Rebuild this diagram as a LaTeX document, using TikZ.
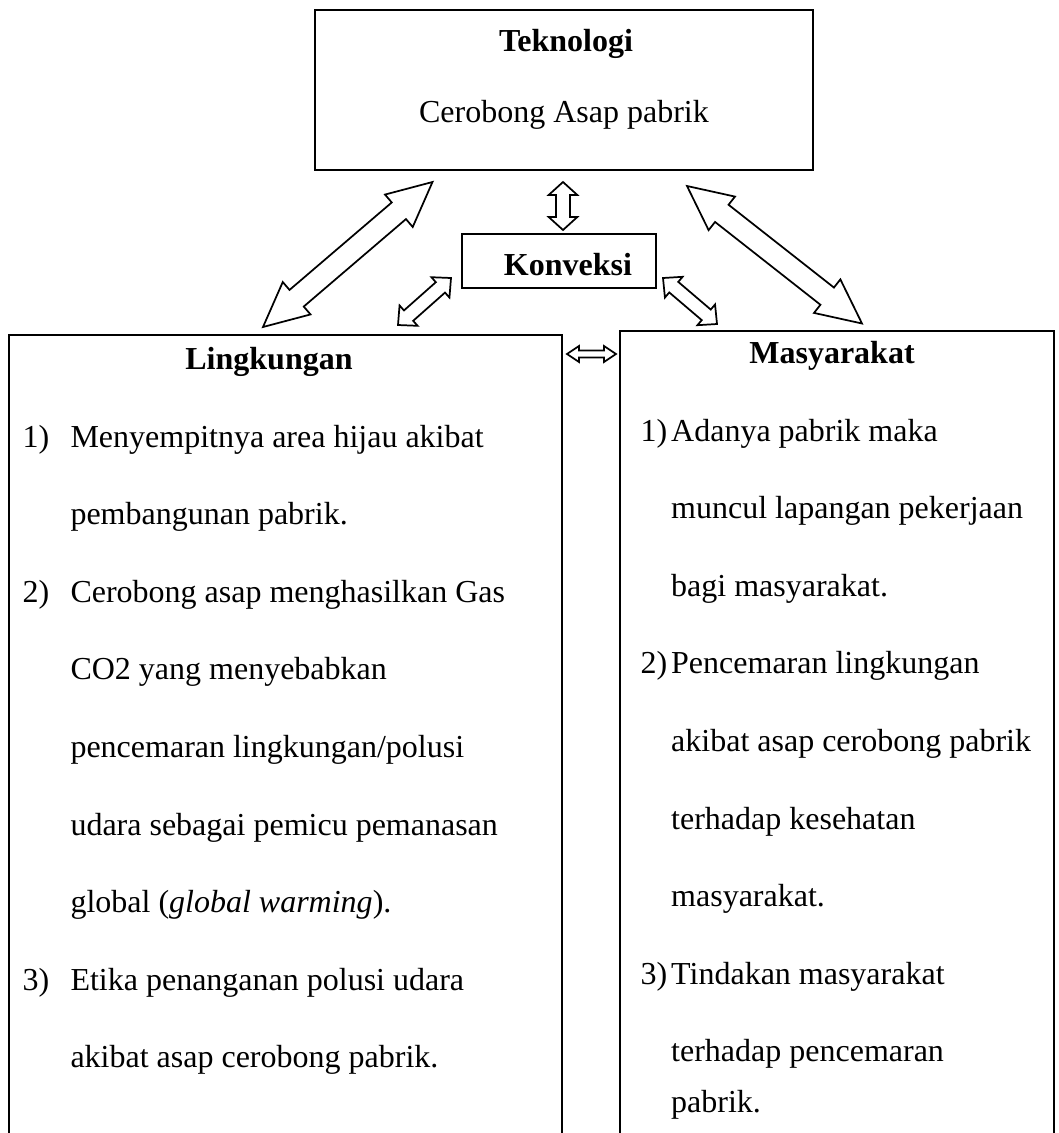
\documentclass[tikz,border=0pt]{standalone}
\usepackage{fontspec}
\setmainfont{Liberation Serif}
\usetikzlibrary{calc,fit}

\tikzset{
  box/.style={draw, line width=0.9pt, inner sep=0pt},
  smallbox/.style={draw, line width=0.8pt, inner sep=0pt},
  lbl/.style={inner sep=0pt, font=\fontsize{12}{14.4}\selectfont},
  head/.style={inner sep=0pt, font=\fontsize{12}{14.4}\selectfont\bfseries},
  blockarrow/.style={draw, line width=0.65pt, fill=white, line join=miter},
}

% Double-headed block arrow between two named points.
% #1 from, #2 to, #3 head length, #4 half head width, #5 half shaft width
\newcommand{\blockarrow}[5]{%
  \draw[blockarrow] (#1)
    -- ($(#1)!#3!(#2)!#4!90:(#2)$)
    -- ($(#1)!#3!(#2)!#5!90:(#2)$)
    -- ($(#2)!#3!(#1)!#5!-90:(#1)$)
    -- ($(#2)!#3!(#1)!#4!-90:(#1)$)
    -- (#2)
    -- ($(#2)!#3!(#1)!#4!90:(#1)$)
    -- ($(#2)!#3!(#1)!#5!90:(#1)$)
    -- ($(#1)!#3!(#2)!#5!-90:(#2)$)
    -- ($(#1)!#3!(#2)!#4!-90:(#2)$)
    -- cycle;}

\begin{document}
\begin{tikzpicture}[x=0.375pt, y=-0.375pt]
\useasboundingbox (0,0) rectangle (1058,1133);
\clip (0,0) rectangle (1058,1133);

% boxes
\node[box, fit={(315,10)(813,170)}] (tek) {};
\node[smallbox, fit={(462,234)(656,288)}] (konv) {};
\node[box, fit={(9,335)(562,1160)}] (ling) {};
\node[box, fit={(620,331)(1054,1160)}] (masy) {};

% top box text
\node[head, anchor=base] (tektitle) at (566,51) {Teknologi};
\node[lbl, anchor=base] (teksub) at (564,122) {Cerobong Asap pabrik};
\node[head, anchor=base] (konvtitle) at (568,275) {Konveksi};

% left box text
\node[head, anchor=base] (lingtitle) at (269,369) {Lingkungan};
\node[lbl, anchor=base west] (lingitems) at (22,447) {\fontsize{12}{29.1}\selectfont
\begin{tabular}[t]{@{}p{18pt}@{}l@{}}
1) & Menyempitnya area hijau akibat\\
   & pembangunan pabrik.\\
2) & Cerobong asap menghasilkan Gas\\
   & CO2 yang menyebabkan\\
   & pencemaran lingkungan/polusi\\
   & udara sebagai pemicu pemanasan\\
   & global (\textit{global warming}).\\
3) & Etika penanganan polusi udara\\
   & akibat asap cerobong pabrik.
\end{tabular}};

% right box text
\node[head, anchor=base] (masytitle) at (832,363) {Masyarakat};
\node[lbl, anchor=base west] (masyitems) at (640,441) {\fontsize{12}{29.1}\selectfont
\begin{tabular}[t]{@{}p{11.5pt}@{}l@{}}
1) & Adanya pabrik maka\\
   & muncul lapangan pekerjaan\\
   & bagi masyarakat.\\
2) & Pencemaran lingkungan\\
   & akibat asap cerobong pabrik\\
   & terhadap kesehatan\\
   & masyarakat.\\
3) & Tindakan masyarakat\\
   & terhadap pencemaran\\[-10pt]
   & pabrik.
\end{tabular}};

% arrow end points
\coordinate (tl) at (432.5,182);
\coordinate (lt) at (263,327);
\coordinate (tr) at (687,186);
\coordinate (mt) at (862,323.5);
\coordinate (kl) at (451,278);
\coordinate (lk) at (398,325);
\coordinate (kr) at (663,278);
\coordinate (mk) at (717,324);
\coordinate (tk) at (563,182);
\coordinate (kt) at (563,230);
\coordinate (lm) at (567,354);
\coordinate (ml) at (616,354);

% connectors
\blockarrow{tl}{lt}{16.6pt}{8pt}{4.1pt}
\blockarrow{tr}{mt}{16.6pt}{8pt}{4.1pt}
\blockarrow{kl}{lk}{5.3pt}{5.1pt}{2.6pt}
\blockarrow{kr}{mk}{5.3pt}{5.1pt}{2.6pt}
\blockarrow{tk}{kt}{4.9pt}{5.4pt}{2.6pt}
\blockarrow{lm}{ml}{4.5pt}{3pt}{1.3pt}

\end{tikzpicture}
\end{document}
